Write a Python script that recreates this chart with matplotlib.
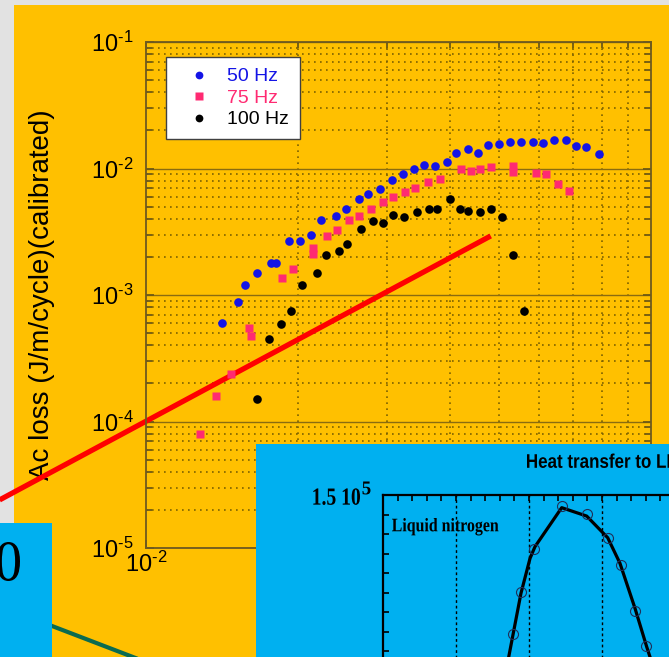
import matplotlib
matplotlib.use("Agg")
import matplotlib.pyplot as plt
import numpy as np
from matplotlib.patches import Rectangle, PathPatch
from matplotlib.lines import Line2D
from matplotlib.textpath import TextPath
from matplotlib.font_manager import FontProperties
from matplotlib.transforms import Affine2D
from matplotlib.ticker import NullFormatter, MultipleLocator, FuncFormatter

W, H, DPI = 669, 657, 100

# AC loss vs. field, three frequencies
f50_x = [0.01415, 0.01522, 0.01572, 0.01661, 0.0177, 0.01811, 0.01921, 0.02021, 0.02125,
         0.02225, 0.02382, 0.02494, 0.02646, 0.02757, 0.02913, 0.03063, 0.03221, 0.03387,
         0.03545, 0.03728, 0.03938, 0.04103, 0.04335, 0.04537, 0.0475, 0.04995, 0.05252,
         0.05523, 0.05833, 0.06105, 0.0642, 0.06783, 0.071, 0.07431, 0.07885]
f50_y = [6.01e-4, 8.8e-4, 1.2e-3, 1.49e-3, 1.79e-3, 1.79e-3, 2.67e-3, 2.67e-3, 2.98e-3,
         3.92e-3, 4.21e-3, 4.78e-3, 5.74e-3, 6.29e-3, 6.89e-3, 8.11e-3, 9.05e-3, 9.91e-3,
         1.066e-2, 1.047e-2, 1.126e-2, 1.326e-2, 1.426e-2, 1.326e-2, 1.534e-2, 1.562e-2, 1.62e-2,
         1.62e-2, 1.62e-2, 1.591e-2, 1.68e-2, 1.68e-2, 1.506e-2, 1.479e-2, 1.302e-2]

f75_x = [0.0128, 0.01377, 0.01474, 0.0160, 0.01616, 0.01862, 0.01957, 0.02145, 0.02145,
         0.02287, 0.02393, 0.02528, 0.02646, 0.02795, 0.0294, 0.03091, 0.03251, 0.03402,
         0.03611, 0.03814, 0.04198, 0.04395, 0.04579, 0.04815, 0.05324, 0.05324, 0.05913,
         0.0619, 0.06539, 0.06877]
f75_y = [7.97e-5, 1.59e-4, 2.37e-4, 5.48e-4, 4.74e-4, 1.36e-3, 1.61e-3, 2.35e-3, 2.11e-3,
         2.93e-3, 3.26e-3, 3.92e-3, 4.21e-3, 4.78e-3, 5.43e-3, 5.95e-3, 6.52e-3, 7.01e-3,
         7.82e-3, 8.26e-3, 9.91e-3, 9.55e-3, 9.91e-3, 1.028e-2, 1.047e-2, 9.38e-3, 9.21e-3,
         9.05e-3, 7.54e-3, 6.64e-3]

f100_x = [0.01661, 0.01754, 0.01853, 0.0194, 0.02039, 0.02185, 0.02276, 0.02415, 0.02505,
          0.02671, 0.02821, 0.02953, 0.03091, 0.03236, 0.03434, 0.03627, 0.03762, 0.03992,
          0.04178, 0.04335, 0.04579, 0.04815, 0.05064, 0.05324, 0.05598]
f100_y = [1.51e-4, 4.49e-4, 5.9e-4, 7.47e-4, 1.2e-3, 1.49e-3, 2.07e-3, 2.23e-3, 2.53e-3,
          3.32e-3, 3.85e-3, 3.71e-3, 4.29e-3, 4.14e-3, 4.53e-3, 4.78e-3, 4.78e-3, 5.74e-3,
          4.78e-3, 4.61e-3, 4.53e-3, 4.78e-3, 4.14e-3, 2.07e-3, 7.47e-4]

# red reference line drawn across the chart
red_x = [0.00513, 0.04815]
red_y = [2.40e-5, 2.93e-3]

# inset: heat transfer to LN2
ln_fit_x = [8.43, 8.61, 9.45, 10.07, 10.41, 12.24, 13.95, 15.39, 16.23, 17.26, 18.06, 18.29, 18.59]
ln_fit_y = [6.0e4, 6.69e4, 9.96e4, 1.175e5, 1.235e5, 1.435e5, 1.392e5, 1.281e5, 1.15e5,
            9.19e4, 7.22e4, 6.69e4, 6.0e4]
ln_meas_x = [8.92, 9.45, 10.32, 12.24, 13.95, 15.39, 16.30, 17.26, 18.03]
ln_meas_y = [7.86e4, 1.003e5, 1.222e5, 1.445e5, 1.403e5, 1.281e5, 1.139e5, 9.04e4, 7.27e4]

YELLOW = '#FFC000'
SKY = '#00B0F0'
GRID = '#7d6200'
BLUE = '#1414E6'
PINK = '#FF2A72'

plt.rcParams['font.family'] = 'Liberation Sans'
plt.rcParams['mathtext.fontset'] = 'custom'
plt.rcParams['mathtext.rm'] = 'Liberation Sans'
plt.rcParams['mathtext.it'] = 'Liberation Sans:italic'
plt.rcParams['mathtext.bf'] = 'Liberation Sans:bold'
plt.rcParams['mathtext.default'] = 'regular'

fig = plt.figure(figsize=(W / DPI, H / DPI), dpi=DPI, facecolor='#e2e2e2')


def px_rect(x0, y0, x1, y1):
    # slide pixel box (y down) -> figure fraction [l, b, w, h]
    return [x0 / W, 1 - y1 / H, (x1 - x0) / W, (y1 - y0) / H]


def fig_box(x0, y0, x1, y1, color, z):
    l, b, w, h = px_rect(x0, y0, x1, y1)
    fig.add_artist(Rectangle((l, b), w, h, transform=fig.transFigure,
                             facecolor=color, edgecolor='none', zorder=z))


def squeezed_text(s, fp, x0, y0, y1, sx=1.0, x1=None, z=8):
    # text as a path so it can be squeezed like the pasted picture
    tp = TextPath((0, 0), s, size=100, prop=fp)
    bb = tp.get_extents()
    ky = (y1 - y0) / bb.height
    kx = ky * sx if x1 is None else (x1 - x0) / bb.width
    tr = (Affine2D().translate(-bb.x0, -bb.y0).scale(kx, ky)
          .translate(x0, H - y1).scale(1 / W, 1 / H) + fig.transFigure)
    fig.add_artist(PathPatch(tp, transform=tr, facecolor='black',
                             edgecolor='none', zorder=z))


def decade_label(v, pos, vmax=None):
    if vmax is not None and v > vmax:
        return ''
    e = int(round(np.log10(v)))
    sign = r'\text{-}' if e < 0 else ''
    return r'$\mathdefault{10^{%s%d}}$' % (sign, abs(e))


# slide background
fig_box(14, 5, W, H, YELLOW, -2)

# ---- main chart ----
ax = fig.add_axes(px_rect(146, 42, 651, 548), zorder=0)
ax.set_facecolor(YELLOW)
ax.set_xscale('log')
ax.set_yscale('log')
ax.set_xlim(1e-2, 1e-1)
ax.set_ylim(1e-5, 1e-1)

ax.grid(which='minor', axis='both', ls=(0, (1, 2.6)), lw=1.2, color=GRID)
ax.grid(which='major', axis='y', ls='-', lw=1.0, color='#8a6c10')
ax.set_axisbelow(True)

ax.plot(red_x, red_y, color='#FF0000', lw=3.8, clip_on=False, zorder=2,
        solid_capstyle='butt')

l50, = ax.plot(f50_x, f50_y, 'o', ms=6.2, color=BLUE, mec='none', zorder=3, label='50 Hz')
l75, = ax.plot(f75_x, f75_y, 's', ms=6.3, color=PINK, mec='none', zorder=3, label='75 Hz')
l100, = ax.plot(f100_x, f100_y, 'o', ms=6.2, color='black', mec='none', zorder=3, label='100 Hz')

for s in ax.spines.values():
    s.set_color('#6e5a20')
    s.set_linewidth(1.3)
ax.tick_params(which='both', direction='in', top=True, right=True,
               color='#6e5a14', width=1.3, labelsize=17)
ax.tick_params(which='major', length=6)
ax.tick_params(which='minor', length=4)
ax.tick_params(axis='y', pad=9)
ax.tick_params(axis='x', pad=3)
ax.yaxis.set_major_formatter(FuncFormatter(decade_label))
# the 10^-1 label on x sits under the pasted inset, so only 10^-2 shows
ax.xaxis.set_major_formatter(FuncFormatter(lambda v, p: decade_label(v, p, vmax=0.05)))
ax.xaxis.set_minor_formatter(NullFormatter())
ax.yaxis.set_minor_formatter(NullFormatter())

ax.set_ylabel('Ac loss (J/m/cycle)(calibrated)', fontsize=20)
ax.yaxis.set_label_coords(-0.18, 0.5)

leg = ax.legend(handles=[l50, l75, l100], loc='upper left',
                bbox_to_anchor=(0.0396, 0.970), borderaxespad=0, fontsize=14,
                frameon=True, fancybox=False, framealpha=1, edgecolor='#404040',
                borderpad=0.55, handlelength=2.3, handletextpad=0.3,
                labelspacing=0.2, numpoints=1, markerscale=0.9,
                labelcolor=[BLUE, PINK, 'black'])
leg.get_frame().set_linewidth(1.0)

# ---- pasted pictures on the slide ----
fig.add_artist(Line2D([40 / W, 200 / W], [1 - 621.4 / H, 1 - 682.7 / H],
                      transform=fig.transFigure, color='#0b6b50', lw=3.0, zorder=4))
fig_box(0, 523, 52, H, SKY, 5)
squeezed_text('0', FontProperties(family='Liberation Serif'), -3, 542, 581, x1=20, z=6)

fig_box(256, 444, W, H, SKY, 5)

ins = fig.add_axes(px_rect(383, 495, 675, 787.5), zorder=6)
ins.set_facecolor('none')
ins.set_xlim(0, 20)
ins.set_ylim(0, 1.5e5)
for s in ins.spines.values():
    s.set_color('black')
    s.set_linewidth(1.6)
ins.xaxis.set_major_locator(MultipleLocator(1))
ins.yaxis.set_major_locator(MultipleLocator(1e4))
ins.tick_params(direction='in', top=True, right=True, length=4.5, width=1.2,
                labelbottom=False, labelleft=False)
for xv in (5, 10, 15):
    ins.axvline(xv, color='black', lw=1.0, ls=(0, (2, 2)))
ins.plot(ln_fit_x, ln_fit_y, color='black', lw=2.3, zorder=3)
ins.plot(ln_meas_x, ln_meas_y, 'o', ms=7.2, mfc='none', mec='#1e2f5a', mew=0.8, zorder=4)

serif_b = FontProperties(family='Liberation Serif', weight='bold')
sans_b = FontProperties(family='Liberation Sans', weight='bold')
squeezed_text('Heat transfer to LN', sans_b, 527, 453.5, 468, sx=0.86)
squeezed_text('Liquid nitrogen', serif_b, 392, 518, 535.5, x1=498.5)
squeezed_text('1.5 10', serif_b, 313.3, 488.3, 505, x1=360)
squeezed_text('5', serif_b, 362.5, 481.5, 494.5, x1=370.5)

fig.savefig('out.png', dpi=DPI, facecolor=fig.get_facecolor())
